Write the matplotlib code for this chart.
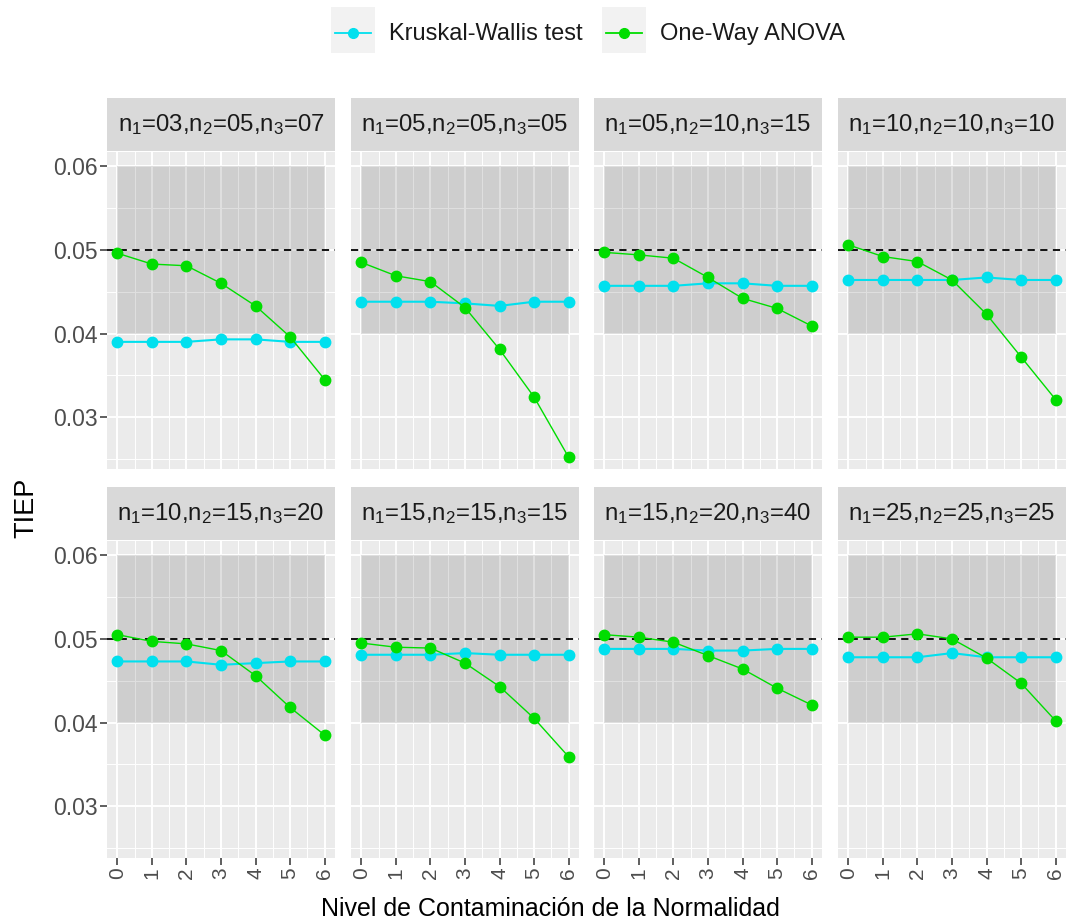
import numpy as np
import matplotlib
matplotlib.use("Agg")
import matplotlib.pyplot as plt
from matplotlib.lines import Line2D
from matplotlib.patches import Rectangle

plt.rcParams['font.family'] = ['Liberation Sans', 'DejaVu Sans']
plt.rcParams['mathtext.fontset'] = 'custom'
plt.rcParams['mathtext.rm'] = 'Liberation Sans'

# Datos
niveles = [0, 1, 2, 3, 4, 5, 6]
paneles = ["03,05,07", "05,05,05", "05,10,15", "10,10,10",
           "10,15,20", "15,15,15", "15,20,40", "25,25,25"]

kruskal = [
    [0.0390, 0.0390, 0.0390, 0.0393, 0.0393, 0.0390, 0.0390],
    [0.0438, 0.0438, 0.0438, 0.0436, 0.0433, 0.0438, 0.0438],
    [0.0457, 0.0457, 0.0457, 0.0460, 0.0460, 0.0457, 0.0457],
    [0.0464, 0.0464, 0.0464, 0.0464, 0.0467, 0.0464, 0.0464],
    [0.0473, 0.0473, 0.0473, 0.0469, 0.0471, 0.0473, 0.0473],
    [0.0481, 0.0481, 0.0481, 0.0483, 0.0481, 0.0481, 0.0481],
    [0.0488, 0.0488, 0.0488, 0.0486, 0.0486, 0.0488, 0.0488],
    [0.0478, 0.0478, 0.0478, 0.0483, 0.0478, 0.0478, 0.0478],
]
anova = [
    [0.0496, 0.0483, 0.0481, 0.0460, 0.0433, 0.0396, 0.0345],
    [0.0485, 0.0469, 0.0462, 0.0431, 0.0381, 0.0324, 0.0252],
    [0.0497, 0.0494, 0.0490, 0.0467, 0.0442, 0.0430, 0.0409],
    [0.0506, 0.0492, 0.0486, 0.0464, 0.0423, 0.0372, 0.0321],
    [0.0505, 0.0497, 0.0494, 0.0486, 0.0456, 0.0418, 0.0385],
    [0.0495, 0.0490, 0.0489, 0.0471, 0.0443, 0.0405, 0.0359],
    [0.0505, 0.0502, 0.0496, 0.0480, 0.0464, 0.0441, 0.0421],
    [0.0502, 0.0502, 0.0506, 0.0500, 0.0477, 0.0447, 0.0402],
]

col_kw = '#00E0EE'
col_an = '#00DD00'

W, H = 1070, 924
fig = plt.figure(figsize=(W / 100, H / 100), dpi=100)

def fr(x0, y0, w, h):
    # pixeles (desde arriba) -> fraccion de figura
    return [x0 / W, 1 - (y0 + h) / H, w / W, h / H]

lefts = [107, 351, 594, 838]
pw = 228
tops = [152, 541]
ph = 317
sh = 54

for i in range(8):
    r, c = divmod(i, 4)
    ax = fig.add_axes(fr(lefts[c], tops[r], pw, ph))
    ax.set_facecolor('#EBEBEB')
    ax.set_xlim(-0.3, 6.3)
    ax.set_ylim(0.0238, 0.0617)
    ax.set_xticks(niveles)
    ax.set_xticks(np.arange(0.5, 6, 1), minor=True)
    ax.set_yticks([0.03, 0.04, 0.05, 0.06])
    ax.set_yticks([0.025, 0.035, 0.045, 0.055], minor=True)
    ax.grid(True, which='major', color='white', lw=1.4, zorder=0)
    ax.grid(True, which='minor', color='white', lw=0.7, zorder=0)
    ax.set_axisbelow(True)
    for s in ax.spines.values():
        s.set_visible(False)
    ax.tick_params(which='minor', length=0)
    ax.tick_params(which='major', length=5, width=1.1, color='#333333',
                   labelcolor='#4D4D4D', labelsize=16.5, pad=2)
    if r == 1:
        ax.set_xticklabels([str(n) for n in niveles], rotation=90, fontsize=15)
    else:
        ax.tick_params(axis='x', length=0, labelbottom=False)
    if c == 0:
        ax.set_yticklabels(['0.03', '0.04', '0.05', '0.06'])
    else:
        ax.tick_params(axis='y', length=0, labelleft=False)

    ax.add_patch(Rectangle((0, 0.04), 6, 0.02, facecolor='black', alpha=0.12,
                           edgecolor='none', zorder=1))
    ax.axhline(0.05, color='black', ls=(0, (4, 3)), lw=1.3, zorder=2)
    ax.plot(niveles, kruskal[i], color=col_kw, lw=1.5, marker='o', ms=7.5, zorder=3)
    ax.plot(niveles, anova[i], color=col_an, lw=1.0, marker='o', ms=7.5, zorder=4)

    # tira del panel
    sax = fig.add_axes(fr(lefts[c], tops[r] - sh, pw, sh - 1))
    sax.set_facecolor('#D9D9D9')
    sax.set_xticks([])
    sax.set_yticks([])
    for s in sax.spines.values():
        s.set_visible(False)
    n1, n2, n3 = paneles[i].split(',')
    etiqueta = (r'n$\mathregular{_1}$=' + n1 + r',n$\mathregular{_2}$=' + n2 +
                r',n$\mathregular{_3}$=' + n3)
    sax.text(0.5, 0.5, etiqueta, ha='center', va='center', fontsize=17.3,
             color='#1A1A1A', transform=sax.transAxes)

fig.text(26 / W, 1 - 508 / H, 'TIEP', rotation=90, ha='center', va='center',
         fontsize=19.5, color='black')
fig.text(550 / W, 1 - 909 / H, 'Nivel de Contaminación de la Normalidad',
         ha='center', va='center', fontsize=18, color='black')

# leyenda
keys = [(331, 'Kruskal-Wallis test', col_kw), (602, 'One-Way ANOVA', col_an)]
for x0, lab, col in keys:
    fig.patches.append(Rectangle((x0 / W, 1 - 53 / H), 44 / W, 46 / H,
                                 facecolor='#F2F2F2', edgecolor='none',
                                 transform=fig.transFigure))
    fig.lines.append(Line2D([(x0 + 4) / W, (x0 + 40) / W], [1 - 33 / H, 1 - 33 / H],
                            color=col, lw=1.3, transform=fig.transFigure))
    fig.lines.append(Line2D([(x0 + 22) / W], [1 - 33 / H], color=col, marker='o',
                            ms=7, transform=fig.transFigure))
    fig.text((x0 + 58) / W, 1 - 34 / H, lab, ha='left', va='center',
             fontsize=17, color='#1A1A1A')

fig.savefig('out.png', dpi=100)
